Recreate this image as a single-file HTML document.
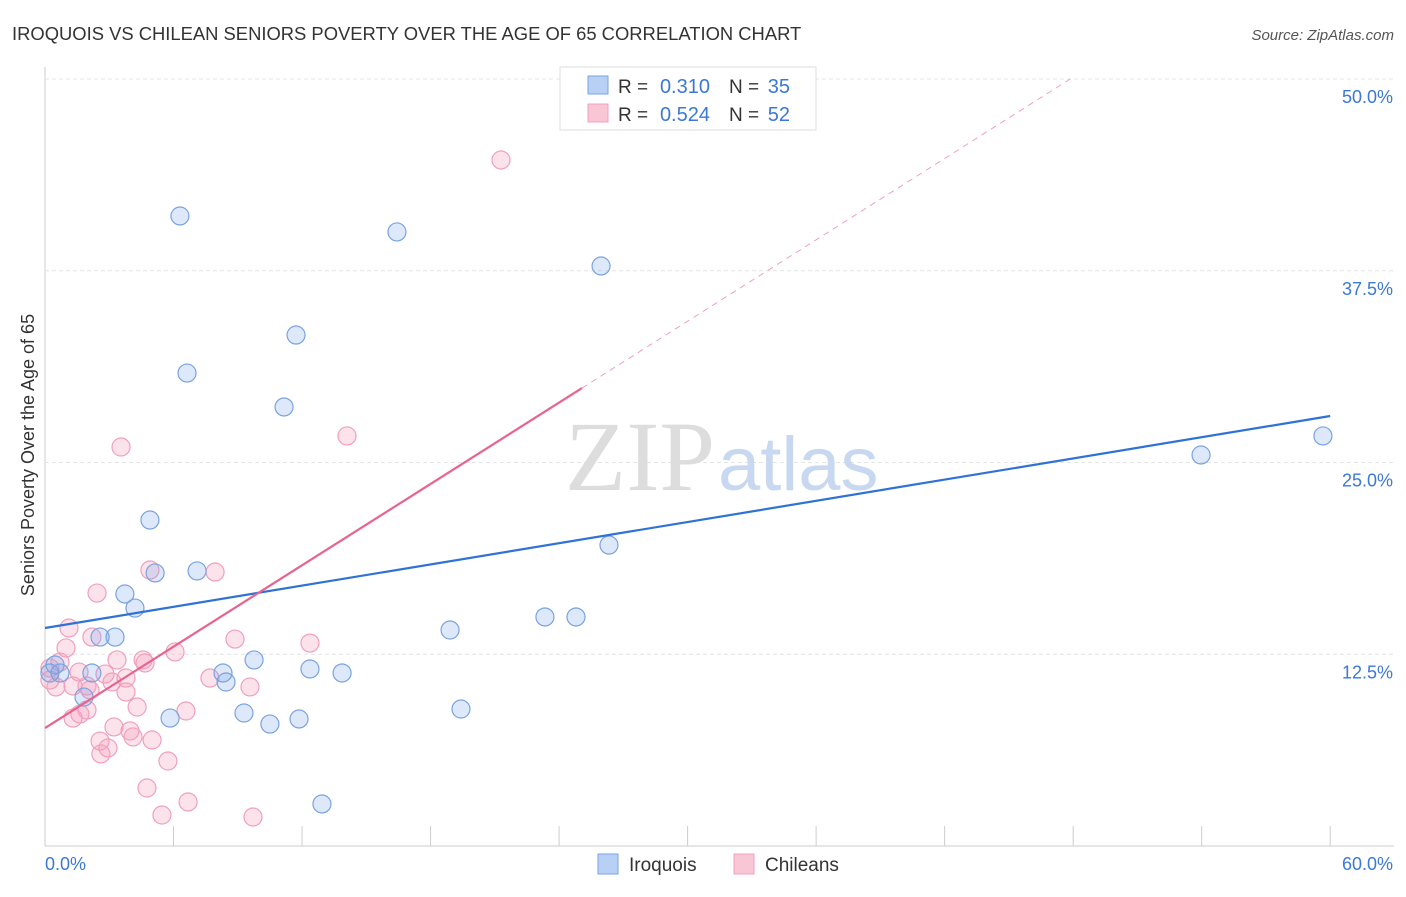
<!DOCTYPE html>
<html><head><meta charset="utf-8"><style>
body{margin:0;background:#fff;font-family:"Liberation Sans",sans-serif;}
</style></head><body>
<svg width="1406" height="892" xmlns="http://www.w3.org/2000/svg" font-family="Liberation Sans, sans-serif">
<text x="12" y="40" font-size="18.4" fill="#333">IROQUOIS VS CHILEAN SENIORS POVERTY OVER THE AGE OF 65 CORRELATION CHART</text>
<text x="1394" y="40" font-size="15" fill="#555" font-style="italic" text-anchor="end">Source: ZipAtlas.com</text>
<g id="grid"></g>
<text x="715" y="490" font-size="100" fill="#ddd" text-anchor="end" font-family="Liberation Serif, serif">ZIP</text>
<text x="718" y="490" font-size="76" fill="#c8d8f0">atlas</text>
<text transform="translate(34,455) rotate(-90)" font-size="18" fill="#333" text-anchor="middle">Seniors Poverty Over the Age of 65</text>
<g id="marks"></g>
<g>
<rect x="560" y="67" width="256" height="63" fill="#fff" stroke="#ddd"/>
<rect x="588" y="76" width="20" height="18" fill="#b8d0f4" stroke="#7aa3e0"/>
<rect x="588" y="104" width="20" height="18" fill="#f9c6d6" stroke="#f0a0bd"/>
<text x="618" y="93" font-size="19" fill="#333">R =</text>
<text x="710" y="93" font-size="20" fill="#3b78d8" text-anchor="end">0.310</text>
<text x="729" y="93" font-size="19" fill="#333">N =</text>
<text x="790" y="93" font-size="20" fill="#3b78d8" text-anchor="end">35</text>
<text x="618" y="121" font-size="19" fill="#333">R =</text>
<text x="710" y="121" font-size="20" fill="#3b78d8" text-anchor="end">0.524</text>
<text x="729" y="121" font-size="19" fill="#333">N =</text>
<text x="790" y="121" font-size="20" fill="#3b78d8" text-anchor="end">52</text>
</g>
<g>
<rect x="598" y="854" width="20" height="20" fill="#b8d0f4" stroke="#7aa3e0"/>
<text x="629" y="871" font-size="19" fill="#333">Iroquois</text>
<rect x="734" y="854" width="20" height="20" fill="#f9c6d6" stroke="#f0a0bd"/>
<text x="765" y="871" font-size="19" fill="#333">Chileans</text>
</g>
</svg>
<script>
const xTicks=[0,6,12,18,24,30,36,42,48,54,60];
const yTicks=[12.5,25,37.5,50];
const yTickLabels=["12.5%","25.0%","37.5%","50.0%"];
const iroqX=[6.30,16.43,25.96,11.72,6.63,11.16,4.90,5.14,7.10,26.33,3.73,4.20,2.57,3.27,18.91,23.34,24.79,9.76,12.37,13.87,8.31,8.45,2.19,0.70,0.23,1.82,5.84,9.29,10.50,11.86,19.42,12.93,53.97,59.66,0.47];
const iroqY=[41.07,40.03,37.81,33.31,30.83,28.62,21.25,17.80,17.93,19.62,16.43,15.51,13.62,13.62,14.08,14.93,14.93,12.13,11.54,11.28,11.28,10.69,11.28,11.28,11.28,9.71,8.34,8.67,7.95,8.28,8.93,2.74,25.49,26.73,11.80];
const chilX=[21.29,14.10,3.55,4.90,7.94,2.43,1.12,2.19,8.87,12.37,0.98,6.07,0.70,3.36,4.58,4.67,0.23,1.59,2.80,3.78,7.70,9.57,1.31,1.96,3.13,0.51,3.78,4.30,6.58,1.96,1.63,1.31,3.22,3.97,4.11,5.00,2.57,2.94,2.61,5.74,4.76,6.68,5.46,9.71,0.23,2.10];
const chilY=[44.72,26.73,26.01,17.99,17.86,16.49,14.21,13.62,13.49,13.23,12.91,12.65,11.99,12.13,12.13,11.93,11.60,11.34,11.21,10.95,10.95,10.37,10.43,10.43,10.69,10.37,10.04,9.06,8.80,8.87,8.60,8.34,7.76,7.50,7.11,6.91,6.84,6.39,6.00,5.54,3.78,2.87,2.02,1.89,10.82,10.17];
const iroqTrend=[14.21,28.03];
const chilTrend=[7.69,0.884,25.07];
const NS="http://www.w3.org/2000/svg";
const X=v=>45+v*21.42, Y=v=>846-v*15.34;
function mk(p,t,a){const e=document.createElementNS(NS,t);for(const k in a)e.setAttribute(k,a[k]);p.appendChild(e);return e;}
const g=document.getElementById('grid'), m=document.getElementById('marks');
mk(g,'line',{x1:45,y1:846,x2:1394,y2:846,stroke:'#ccc'});
mk(g,'line',{x1:45,y1:67,x2:45,y2:846,stroke:'#ccc'});
yTicks.forEach((t,i)=>{
 const l=mk(g,'line',{x1:45,y1:Y(t),x2:1394,y2:Y(t),stroke:'#e4e4e4','stroke-dasharray':'4,3'});
 
 
 const tx=mk(g,'text',{x:1393,y:Y(t)+24,'font-size':18,fill:'#3b78d8','text-anchor':'end'});
 tx.textContent=yTickLabels[i];
 
 
});
xTicks.forEach(t=>{
 const l=mk(g,'line',{x1:X(t),y1:826,x2:X(t),y2:846,stroke:'#ccc'});
 
 
});
const xl0=mk(g,'text',{x:45,y:870,'font-size':18,fill:'#3b78d8'});xl0.textContent='0.0%';


const xl1=mk(g,'text',{x:1393,y:870,'font-size':18,fill:'#3b78d8','text-anchor':'end'});xl1.textContent='60.0%';


chilX.forEach((x,i)=>{
 const c=mk(m,'circle',{cx:X(x),cy:Y(chilY[i]),r:9,fill:'rgba(244,160,190,0.3)',stroke:'#f0a0bd','stroke-width':1.2});
 
 
});
iroqX.forEach((x,i)=>{
 const c=mk(m,'circle',{cx:X(x),cy:Y(iroqY[i]),r:9,fill:'rgba(120,165,235,0.25)',stroke:'#7aa3e0','stroke-width':1.2});
 
 
});
const bl=mk(m,'line',{x1:X(0),y1:Y(iroqTrend[0]),x2:X(60),y2:Y(iroqTrend[1]),stroke:'#2f72d6','stroke-width':2.2});


const xe=chilTrend[2], xd=(50-chilTrend[0])/chilTrend[1];
const pl=mk(m,'line',{x1:X(0),y1:Y(chilTrend[0]),x2:X(xe),y2:Y(chilTrend[0]+chilTrend[1]*xe),stroke:'#e8648e','stroke-width':2.2});


const pd=mk(m,'line',{x1:X(xe),y1:Y(chilTrend[0]+chilTrend[1]*xe),x2:X(xd),y2:Y(50),stroke:'#f0a0bd','stroke-width':1,'stroke-dasharray':'6,5'});


</script>
</body></html>
